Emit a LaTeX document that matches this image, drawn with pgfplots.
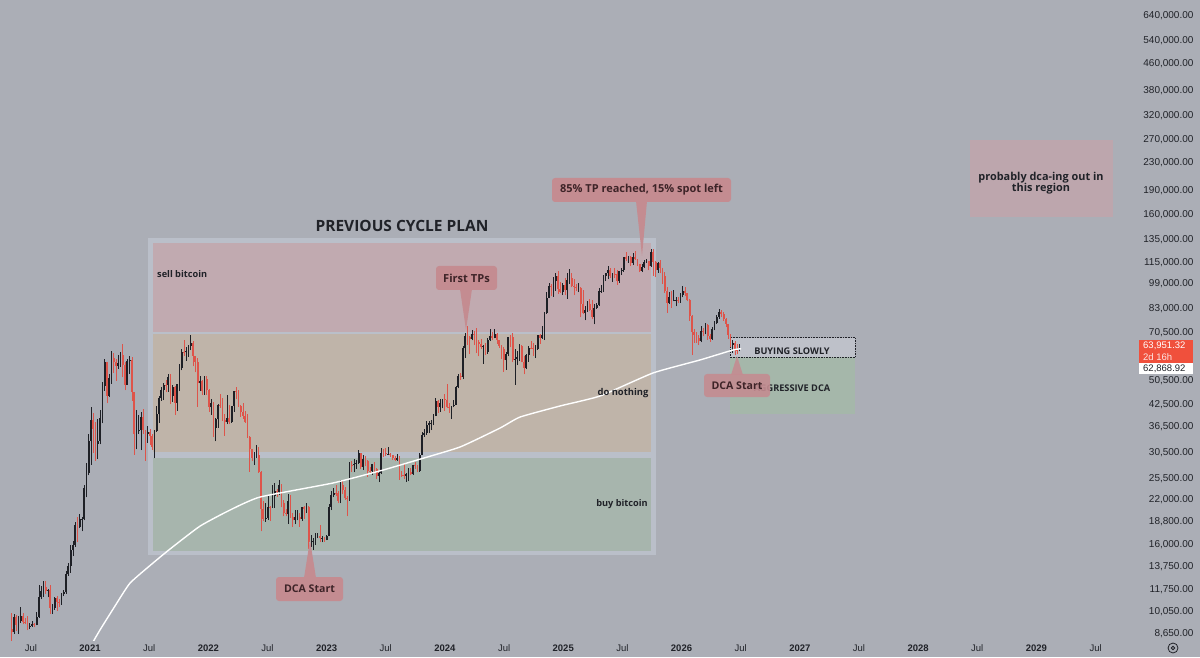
\documentclass[border=0pt]{standalone}
\usepackage{fontspec}
\setmainfont{Liberation Sans}
\newfontfamily\annot{Open Sans}
\usepackage{pgfplots}
\pgfplotsset{compat=1.18}
\usepackage{pgfplotstable}

\definecolor{bg}{RGB}{171,174,182}
\definecolor{frame}{RGB}{186,191,201}
\definecolor{redzone}{RGB}{193,170,176}
\definecolor{orzone}{RGB}{191,180,169}
\definecolor{grzone}{RGB}{167,181,173}
\definecolor{upc}{RGB}{30,32,38}
\definecolor{dnc}{RGB}{222,84,74}
\definecolor{callout}{RGB}{196,140,145}
\definecolor{callouttext}{RGB}{62,36,40}
\definecolor{txt}{RGB}{32,34,40}
\definecolor{slowbox}{RGB}{190,193,201}
\definecolor{aggbox}{RGB}{165,183,170}
\definecolor{outbox}{RGB}{189,166,173}
\definecolor{pricered}{RGB}{240,80,60}

% weekly candles from the week of 2020-05-04; open = previous close
\pgfplotstableread{
c h l
8720 9990 8200
9680 9900 8600
9180 9830 8800
9450 9740 8630
9750 10400 9300
9350 9990 9200
9300 9590 9200
9080 9770 8830
9100 9300 8900
9250 9450 9060
9170 9280 9020
9700 10000 9130
11100 12100 9650
11650 12000 10950
11900 12480 11150
11650 12480 11400
11700 11780 11100
10280 12090 9900
10320 10580 9880
11080 11100 10200
10780 11180 10130
10670 10950 10370
11370 11490 10550
11500 11720 11200
13030 13350 11400
13800 14090 12900
15480 15960 13200
16050 16480 14800
18400 18800 15800
18180 19480 16300
19150 19900 18000
19250 19420 17600
23850 24300 19000
26500 28400 22300
33000 34800 26000
38300 41950 28000
36050 40100 30400
32280 37850 28850
33100 38500 29200
38850 41000 32300
48600 49700 37350
57400 58350 47000
45250 57500 43000
51200 52650 44900
59000 61800 49300
57350 60900 53200
55800 58400 50300
57100 60100 54700
60000 61300 55500
56200 64850 51500
49000 57500 47050
57800 58500 48800
58250 59600 52900
46400 59500 43800
34700 46600 30000
35650 40900 31200
35800 39500 34800
39000 40500 31000
35600 41300 34800
34700 35800 28800
35300 36600 32700
34250 35950 32100
31800 34700 31000
35400 35600 29300
39850 42300 35200
44600 45300 37600
47050 48150 43800
48900 49400 43950
48850 50500 46400
51800 52900 46600
45150 52900 42800
48300 48800 43400
43200 48400 39600
49250 49300 40800
54950 56500 46900
61500 62900 54100
61300 67000 59700
61850 63700 57800
64300 64500 59400
65500 69000 62300
59700 66300 55600
57250 59900 53300
49400 59100 42000
50100 51900 46800
46800 50450 45600
50800 52000 45600
47300 52100 45700
41850 47500 40500
43100 44400 39650
36300 43500 34000
38450 38900 32950
42400 42650 36300
42200 45850 41700
38400 44700 38000
37700 39800 34300
38800 45400 37200
37800 42600 37200
42200 42300 37600
46800 47000 40500
46400 48200 44200
42150 47200 41900
40400 42400 39200
39450 42950 38550
37650 40700 37600
34050 40000 33700
31300 34250 26700
29450 31300 28700
29450 30600 28000
29900 32200 29300
26600 31700 26500
20550 26800 17600
19250 21800 18950
19300 21500 18800
20850 22500 19050
20800 21000 18900
22550 24250 20750
23300 24650 20700
23170 23650 22400
24300 25200 22700
21500 24450 20800
20050 21900 19550
19850 20600 19550
21800 22800 18550
19400 22700 19350
19050 19950 18150
19400 20400 18500
19400 20450 19000
19200 19950 18200
20800 20850 18950
20600 21000 19250
20900 21450 20050
16300 21000 15600
16300 17200 15800
16450 16800 15480
17100 17400 16050
17100 17400 16750
16780 18400 16400
16850 17000 16300
16600 16950 16350
17100 17200 16550
20900 21250 17050
22700 23300 20400
23050 23800 22350
22950 24250 22550
21800 23400 21400
24300 25250 21400
23500 25100 22800
22200 23900 21950
22100 22600 19550
28000 28500 21800
27950 28850 26600
28200 29200 26550
28350 28900 27250
30300 31000 28200
27600 30450 27150
29250 30000 27000
28850 29800 27700
26900 29000 25800
26850 27650 26450
28100 28200 26100
27100 28450 26550
25850 27300 25350
26350 26800 24800
30500 31400 26250
30450 31250 29500
30150 31500 29700
30250 31800 29950
29900 30350 29500
29300 29900 29000
29050 29750 28700
29400 30250 28750
26100 29700 25200
26000 26800 25800
25850 28150 25350
26200 26400 24900
26550 27450 24950
26250 27450 26000
27950 28000 26100
27900 28600 27200
26850 27950 26550
30000 30350 26700
34500 35200 29900
35000 35950 34000
37050 37950 34550
37400 37950 34900
37450 38400 35650
39450 39900 36900
43750 44700 39450
41900 44000 40200
43000 44400 40550
44200 44300 41500
43950 45900 40750
41750 49050 41500
41550 43200 40300
42050 42200 38550
42600 43850 41800
48300 48600 42500
52150 52850 47700
51750 52950 50600
63100 64000 50900
68950 70100 59000
68400 73800 64600
67200 68900 60750
69650 71750 66700
69350 71300 64500
65700 72800 61000
64950 66850 59600
63850 67200 62800
64000 64750 56550
61550 65500 60200
66900 67700 60750
68500 71950 66300
67750 70600 66650
69650 71950 67600
66650 70200 65100
64250 66950 63400
62700 64500 58400
58300 63800 53500
60800 61500 54300
68250 68400 59650
68200 69400 63450
58150 70000 57200
58700 62750 49000
59450 61800 56100
64200 65000 57800
57300 64500 57200
54850 59800 52550
60000 60650 54550
63350 64100 57500
63300 66500 62700
62850 65600 59850
62900 64500 58900
69000 69400 62400
68000 69500 65050
69350 73600 67450
80450 81500 66800
89850 93450 80200
97700 99600 89400
96400 98800 90800
101150 104000 90500
104450 106500 94200
95200 108350 92200
93700 99950 92500
98350 99500 91400
94550 102750 91200
101300 106400 89250
102650 109600 98950
97700 106450 96500
96500 102500 91200
96100 98800 94100
96250 99500 93400
86050 96500 78200
80750 95000 80000
82600 84500 76600
86100 87450 81200
82400 88800 81650
78350 88500 77150
83750 86100 74500
85050 86450 83100
94000 95750 85000
94300 97900 92850
104150 104950 93400
106450 106650 100750
109000 111950 102100
104600 110700 103100
105700 106800 100400
105550 110550 102700
100950 108950 98200
108350 108500 99600
109200 110550 105150
119100 119500 107500
117250 123200 115700
119400 120250 114700
114150 119800 111900
119300 122300 112650
117450 124450 116800
113500 117650 111650
108250 113500 107300
111150 113400 107250
115300 116800 110600
115650 117900 114400
112100 115800 108600
123500 125800 111500
115100 126200 104800
108650 115950 103600
114500 114900 106700
110650 116400 106350
104750 110700 98950
94150 107400 93000
86800 96600 80600
90400 93100 85900
88200 94100 83800
88300 94600 87550
88600 90500 84500
87800 90000 86500
91500 92500 86800
94000 97500 90000
92500 97000 91000
88500 93000 87500
79000 89000 76500
70500 79500 60200
69000 72000 65500
67800 70500 65500
66500 69000 64500
71000 73500 65800
70800 72500 68500
74000 75500 69500
68500 74500 67000
67500 69500 66000
72000 73000 67000
75500 76500 71500
78500 79500 75000
81000 82800 77500
80000 82500 78500
77500 81000 76500
74500 78000 73000
69000 75000 67500
64500 69500 63500
65500 67000 61000
62500 66500 60000
62000 65000 60500
63950 64800 61800
}\ohlc

\pgfplotstablegetrowsof{\ohlc}%
\pgfmathtruncatemacro{\nlast}{\pgfplotsretval-1}%
\gdef\upW{}\gdef\upB{}\gdef\dnW{}\gdef\dnB{}%
\gdef\prevC{8900}%
\pgfplotsforeachungrouped \i in {0,...,\nlast}{%
  \pgfplotstablegetelem{\i}{c}\of\ohlc\let\cC\pgfplotsretval
  \pgfplotstablegetelem{\i}{h}\of\ohlc\let\cH\pgfplotsretval
  \pgfplotstablegetelem{\i}{l}\of\ohlc\let\cL\pgfplotsretval
  \pgfmathsetmacro{\cX}{2020.338+0.019165*\i}%
  \let\cO\prevC
  \ifnum\cC<\cO\relax
    \xdef\dnW{\dnW(\cX,\cL)(\cX,\cH)(\cX,nan)}%
    \xdef\dnB{\dnB(\cX,\cO)(\cX,\cC)(\cX,nan)}%
  \else
    \xdef\upW{\upW(\cX,\cL)(\cX,\cH)(\cX,nan)}%
    \xdef\upB{\upB(\cX,\cO)(\cX,\cC)(\cX,nan)}%
  \fi
  \xdef\prevC{\cC}%
}%

\begin{document}
\begin{tikzpicture}[x=1pt,y=1pt]
\useasboundingbox (0,0) rectangle (1200,657);
\fill[bg] (0,0) rectangle (1200,657);

\begin{axis}[
  at={(0pt,16pt)}, anchor=south west, scale only axis,
  width=1115pt, height=641pt,
  xmin=2020.239, xmax=2029.664,
  ymode=log, ymin=8195, ymax=715800,
  axis line style={draw=none}, tick style={draw=none},
  xtick={2020.5,2021,2021.5,2022,2022.5,2023,2023.5,2024,2024.5,2025,2025.5,2026,2026.5,2027,2027.5,2028,2028.5,2029,2029.5},
  xticklabels={Jul,\textbf{2021},Jul,\textbf{2022},Jul,\textbf{2023},Jul,\textbf{2024},Jul,\textbf{2025},Jul,\textbf{2026},Jul,\textbf{2027},Jul,\textbf{2028},Jul,\textbf{2029},Jul},
  xticklabel style={anchor=base, yshift=-11pt, font=\fontsize{9.5}{11}\selectfont, text=txt},
  ytick={8650,10050,11750,13750,16000,18800,22000,25500,30500,36500,42500,50500,70500,83000,99000,115000,135000,160000,190000,230000,270000,320000,380000,460000,540000,640000},
  yticklabels={{8,650.00},{10,050.00},{11,750.00},{13,750.00},{16,000.00},{18,800.00},{22,000.00},{25,500.00},{30,500.00},{36,500.00},{42,500.00},{50,500.00},{70,500.00},{83,000.00},{99,000.00},{115,000.00},{135,000.00},{160,000.00},{190,000.00},{230,000.00},{270,000.00},{320,000.00},{380,000.00},{460,000.00},{540,000.00},{640,000.00}},
  yticklabel pos=right,
  yticklabel style={anchor=east, xshift=82pt, font=\fontsize{10}{12}\selectfont, text=txt},
  clip=true,
]
% plan zones
\fill[frame] (axis cs:2021.491,14910) rectangle (axis cs:2025.785,136400);
\fill[redzone] (axis cs:2021.533,70500) rectangle (axis cs:2025.743,131300);
\fill[orzone] (axis cs:2021.533,30600) rectangle (axis cs:2025.743,69650);
\fill[grzone] (axis cs:2021.533,15340) rectangle (axis cs:2025.743,29340);
% right side boxes
\fill[aggbox] (axis cs:2026.410,40000) rectangle (axis cs:2027.467,59200);
\fill[slowbox] (axis cs:2026.410,59200) rectangle (axis cs:2027.467,68000);
\draw[txt, densely dotted, line width=0.6pt] (axis cs:2026.410,59200) rectangle (axis cs:2027.467,68000);
\fill[outbox] (axis cs:2028.438,158000) rectangle (axis cs:2029.647,270000);

% candles
\edef\tmp{\noexpand\addplot[draw=dnc, line width=0.75pt, unbounded coords=jump, forget plot] coordinates {\dnW};}\tmp
\edef\tmp{\noexpand\addplot[draw=dnc, line width=1.8pt, unbounded coords=jump, forget plot] coordinates {\dnB};}\tmp
\edef\tmp{\noexpand\addplot[draw=upc, line width=0.75pt, unbounded coords=jump, forget plot] coordinates {\upW};}\tmp
\edef\tmp{\noexpand\addplot[draw=upc, line width=1.8pt, unbounded coords=jump, forget plot] coordinates {\upB};}\tmp

% 200-week moving average
\addplot[white, line width=1.4pt, smooth, tension=0.3, forget plot] coordinates {
(2021.025,8137) (2021.084,8847) (2021.211,10457) (2021.338,12270) (2021.532,14110)
(2021.676,15560) (2021.930,18260) (2022.183,20420) (2022.437,22360) (2023.054,24660)
(2023.477,26990) (2023.764,28940) (2024.127,31690) (2024.466,36180) (2024.635,39070)
(2024.973,42190) (2025.311,45240) (2025.759,53110) (2026.156,58150) (2026.435,62350)
(2026.503,62870)};
\end{axis}

% annotations (pixel coordinates, y measured from the top)
\begin{scope}[shift={(0,657)}, yscale=-1]
\node[font=\annot\fontsize{15.5}{17}\selectfont\bfseries, text=txt] at (402,226) {PREVIOUS CYCLE PLAN};
\node[font=\annot\fontsize{9.2}{10}\selectfont\bfseries, text=txt, anchor=west, inner sep=0] at (157,274) {sell bitcoin};
\node[font=\annot\fontsize{9.4}{10}\selectfont\bfseries, text=txt] at (623,393) {do nothing};
\node[font=\annot\fontsize{9.2}{10}\selectfont\bfseries, text=txt] at (622,504) {buy bitcoin};
\node[font=\annot\fontsize{9.2}{10}\selectfont\bfseries, text=txt] at (792,351) {BUYING SLOWLY};
\node[font=\annot\fontsize{9.2}{10}\selectfont\bfseries, text=txt] at (792,388) {AGGRESSIVE DCA};
\node[font=\annot\fontsize{10.9}{11}\selectfont\bfseries, text=txt, align=center] at (1041,183) {probably dca-ing out in\\this region};

% callouts
\fill[callout, rounded corners=3pt] (436,266) rectangle (497,290);
\fill[callout] (460,289) -- (472,289) -- (466,330) -- cycle;
\node[font=\annot\fontsize{11.1}{12}\selectfont\bfseries, text=callouttext] at (466.5,278) {First TPs};

\fill[callout, rounded corners=3pt] (552,178) rectangle (731,202);
\fill[callout] (636,201) -- (647,201) -- (642,256) -- cycle;
\node[font=\annot\fontsize{11}{12}\selectfont\bfseries, text=callouttext] at (641.5,190) {85\% TP reached, 15\% spot left};

\fill[callout, rounded corners=3pt] (276,577) rectangle (343,601);
\fill[callout] (304,578) -- (316,578) -- (310,540) -- cycle;
\node[font=\annot\fontsize{10.6}{12}\selectfont\bfseries, text=callouttext] at (309.5,589) {DCA Start};

\fill[callout, opacity=0.9, rounded corners=3pt] (704,374) rectangle (770,397);
\fill[callout, opacity=0.9] (731,375) -- (743,375) -- (737,356) -- cycle;
\node[font=\annot\fontsize{10.6}{12}\selectfont\bfseries, text=callouttext] at (737,385.5) {DCA Start};

% price labels on the scale
\fill[pricered] (1139,340) rectangle (1193,363);
\node[font=\fontsize{9.5}{11}\selectfont, text=white, anchor=west, inner sep=0] at (1143,346) {63,951.32};
\node[font=\fontsize{9.5}{11}\selectfont, text=white!85!pricered, anchor=west, inner sep=0] at (1143,357) {2d 16h};
\fill[white] (1139,363) rectangle (1193,374);
\node[font=\fontsize{9.5}{11}\selectfont, text=txt, anchor=west, inner sep=0] at (1143,368.5) {62,868.92};

% settings icon
\draw[txt, line width=0.8pt] (1173,648) circle (5);
\draw[txt, line width=0.8pt] (1173,648) circle (1.8);
\end{scope}
\end{tikzpicture}
\end{document}
